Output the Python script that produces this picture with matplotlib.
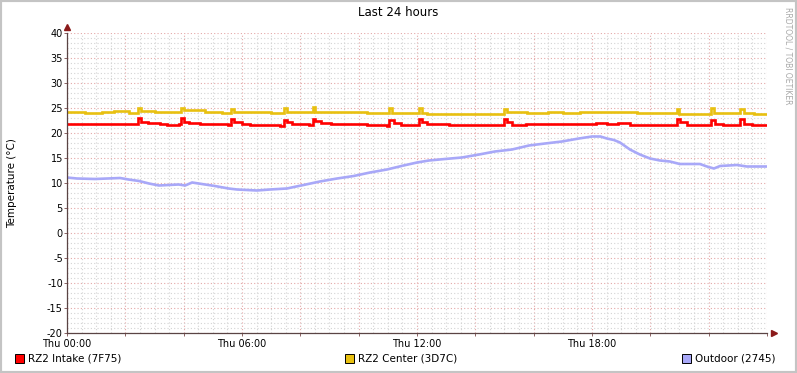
import matplotlib
matplotlib.use('Agg')
import matplotlib.pyplot as plt
from matplotlib.patches import Rectangle
from matplotlib.ticker import MultipleLocator, FuncFormatter

# Daten (Stunden seit Thu 00:00, Temperatur in °C)
intake_t = [0, 0.35, 2.43, 2.54, 2.78, 3.19, 3.43, 3.84, 3.91, 4.01, 4.18, 4.56,
            5.52, 5.62, 5.73, 6.0, 6.27, 7.3, 7.45, 7.55, 7.7, 8.3, 8.43, 8.52,
            8.7, 9.05, 10.3, 10.98, 11.05, 11.2, 11.45, 12.08, 12.18, 12.35, 13.1,
            13.7, 14.99, 15.08, 15.25, 15.75, 17.8, 18.15, 18.5, 18.9, 19.3, 20.91,
            21.02, 21.25, 22.09, 22.23, 22.5, 23.06, 23.2, 23.5, 23.97]
intake_v = [21.9, 21.8, 23.0, 22.2, 22.0, 21.8, 21.6, 21.8, 23.1, 22.3, 22.0, 21.8,
            21.6, 22.8, 22.2, 21.8, 21.7, 21.5, 22.7, 22.3, 21.8, 21.6, 22.9, 22.4,
            22.1, 21.8, 21.7, 21.5, 22.7, 22.1, 21.6, 22.9, 22.3, 21.8, 21.6,
            21.7, 22.9, 22.2, 21.7, 21.9, 21.8, 22.0, 21.8, 22.0, 21.7, 22.9,
            22.3, 21.7, 22.6, 21.9, 21.6, 22.9, 21.9, 21.6, 21.6]

center_t = [0, 0.35, 0.6, 0.97, 1.2, 1.6, 2.11, 2.43, 2.52, 3.0, 3.26, 3.91, 4.0,
            4.74, 5.31, 5.62, 5.72, 6.5, 7.0, 7.45, 7.55, 8.43, 8.52, 9.5, 10.3,
            11.05, 11.15, 12.08, 12.17, 12.34, 14.99, 15.09, 15.77, 16.5, 17.0, 17.6,
            18.17, 18.5, 19.54, 20.91, 21.0, 22.09, 22.2, 23.06, 23.2, 23.54, 23.97]
center_v = [24.2, 24.3, 24.1, 24.0, 24.3, 24.4, 24.1, 25.1, 24.4, 24.3, 24.2, 25.1, 24.6,
            24.2, 24.0, 24.9, 24.3, 24.3, 24.1, 25.1, 24.3, 25.3, 24.3, 24.2, 24.0,
            25.0, 24.0, 25.0, 24.1, 23.9, 24.9, 24.3, 24.1, 24.2, 24.1, 24.3,
            24.3, 24.2, 24.0, 24.9, 23.9, 25.1, 24.0, 24.9, 24.1, 23.8, 23.8]

outdoor_t = [0, 0.34, 0.96, 1.82, 2.11, 2.47, 2.81, 3.15, 3.83, 4.05, 4.29, 5.07,
             5.54, 5.83, 6.51, 6.96, 7.54, 7.78, 8.11, 8.67, 9.26, 9.83, 10.39,
             10.97, 11.54, 12.0, 12.41, 12.96, 13.54, 14.13, 14.67, 15.26, 15.84,
             16.39, 16.97, 17.55, 18.0, 18.29, 18.51, 18.75, 18.96, 19.3, 19.64,
             19.99, 20.33, 20.67, 21.01, 21.7, 21.94, 22.18, 22.39, 22.97, 23.31, 23.97]
outdoor_v = [11.1, 10.9, 10.8, 11.0, 10.7, 10.4, 9.9, 9.5, 9.7, 9.5, 10.1, 9.4,
             8.9, 8.7, 8.5, 8.7, 8.9, 9.2, 9.6, 10.3, 10.9, 11.4, 12.1,
             12.7, 13.5, 14.1, 14.5, 14.8, 15.1, 15.7, 16.3, 16.7, 17.5,
             17.9, 18.3, 18.9, 19.3, 19.3, 18.9, 18.6, 18.1, 16.7, 15.7,
             14.9, 14.5, 14.3, 13.8, 13.8, 13.3, 12.9, 13.4, 13.6, 13.3, 13.3]

serien = [
    ('RZ2 Intake (7F75)', intake_t, intake_v, '#ff0000', 'steps-post'),
    ('RZ2 Center (3D7C)', center_t, center_v, '#e8c010', 'steps-post'),
    ('Outdoor (2745)', outdoor_t, outdoor_v, '#a8a8f8', 'default'),
]

fig = plt.figure(figsize=(7.97, 3.73), dpi=100)
W, H = 797, 373
ax = fig.add_axes([67 / W, (H - 333) / H, 700 / W, 300 / H])

for name, t, v, farbe, stil in serien:
    ax.plot(t, v, color=farbe, lw=1.9, drawstyle=stil, solid_joinstyle='miter')

ax.set_xlim(0, 24)
ax.set_ylim(-20, 40)

# Gitter
ax.xaxis.set_major_locator(MultipleLocator(2))
ax.xaxis.set_minor_locator(MultipleLocator(0.5))
ax.yaxis.set_major_locator(MultipleLocator(5))
ax.yaxis.set_minor_locator(MultipleLocator(1))
ax.xaxis.set_major_formatter(FuncFormatter(
    lambda h, p: 'Thu %02d:00' % h if h % 6 == 0 and h < 24 else ''))
ax.yaxis.set_major_formatter(FuncFormatter(lambda v, p: '%d' % v))
ax.grid(which='minor', color='#d4d4d4', lw=0.8, ls=(0, (1, 2)))
ax.grid(which='major', color='#e4a8a8', lw=0.8, ls=(0, (1, 2)))
ax.set_axisbelow(True)
ax.tick_params(which='both', length=2, width=0.6, color='#7a4a4a',
               labelsize=7, pad=1)
ax.tick_params(axis='x', pad=2.5)
ax.tick_params(axis='x', which='minor', length=0)
ax.tick_params(axis='y', which='minor', length=0)

for s in ['top', 'right']:
    ax.spines[s].set_visible(False)
for s in ['left', 'bottom']:
    ax.spines[s].set_color('#5a4444')
    ax.spines[s].set_linewidth(0.9)

# Pfeile
ax.plot([0], [41.3], marker='^', color='#8b1a1a', ms=4, clip_on=False)
ax.plot([24.25], [-20], marker='>', color='#8b1a1a', ms=4, clip_on=False)

fig.text(398 / W, 1 - 13 / H, 'Last 24 hours', ha='center', va='center', fontsize=8.5)
fig.text(12 / W, 1 - 183 / H, 'Temperature (°C)', ha='center', va='center',
         rotation=90, fontsize=7.5)
fig.text(788 / W, 1 - 56 / H, 'RRDTOOL / TOBI OETIKER', ha='center', va='center',
         rotation=270, fontsize=5.5, color='#a8a8a8')

# Legende
leg_x = [15, 345, 682]
for (name, t, v, farbe, stil), x0 in zip(serien, leg_x):
    fig.patches.append(Rectangle((x0 / W, 1 - 363 / H), 9 / W, 9 / H,
                                 transform=fig.transFigure, facecolor=farbe,
                                 edgecolor='black', lw=0.7))
    fig.text((x0 + 13) / W, 1 - 358.5 / H, name, ha='left', va='center', fontsize=7.5)

# Rahmen
fig.patches.append(Rectangle((0, 0), 1, 1, transform=fig.transFigure, fill=False,
                             edgecolor='#c4c4c4', lw=3))

fig.savefig('out.png', dpi=100)
